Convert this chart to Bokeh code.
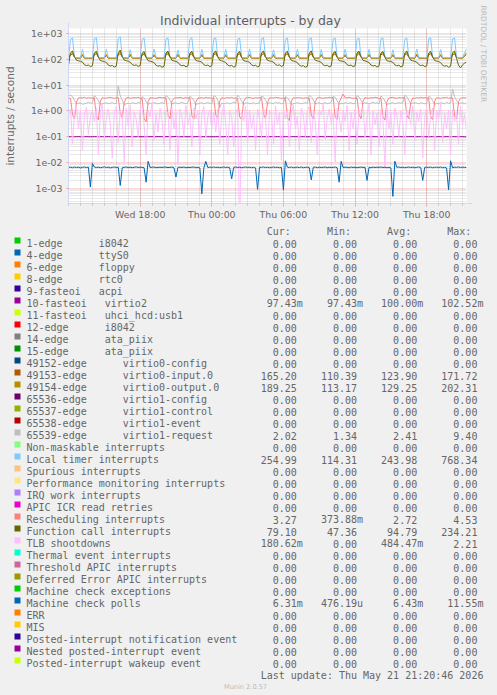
import re
from datetime import datetime, timedelta
import numpy as np
from bokeh.plotting import figure
from bokeh.models import Range1d, FixedTicker, Arrow, NormalHead, Title
from bokeh.core.properties import value
from bokeh.embed import file_html
from bokeh.resources import INLINE

# ---------------- data ----------------
TITLE = "Individual interrupts - by day"
Y_LABEL = "interrupts / second"
START = datetime(2026, 5, 20, 12, 0)
END = datetime(2026, 5, 21, 21, 20)
STEP_MINUTES = 10

X_TICK_LABELS = ["Wed 18:00", "Thu 00:00", "Thu 06:00", "Thu 12:00", "Thu 18:00"]
X_TICK_TIMES = [datetime(2026, 5, 20, 18), datetime(2026, 5, 21, 0), datetime(2026, 5, 21, 6),
                datetime(2026, 5, 21, 12), datetime(2026, 5, 21, 18)]
Y_TICKS = [1e-3, 1e-2, 1e-1, 1e0, 1e1, 1e2, 1e3]
Y_TICK_LABELS = ["1e-03", "1e-02", "1e-01", "1e+00", "1e+01", "1e+02", "1e+03"]
Y_MIN_EXP = -3.598
Y_MAX_EXP = 3.206

# 65539-edge virtio1-request
VIRTIO1_REQUEST = [
3.8,
4.2, 3.6, 2.6, 1.9, 2.0, 2.1, 1.8, 1.9, 2.0, 2.2, 2.0, 2.1,
3.9, 3.4, 2.5, 1.8, 1.9, 2.0, 2.1, 1.9, 2.0, 2.1, 1.9, 2.0,
9.4, 3.8, 2.7, 1.7, 1.9, 2.0, 1.9, 2.1, 2.0, 1.9, 2.2, 2.0,
3.6, 3.2, 2.4, 1.8, 2.0, 1.9, 2.1, 2.0, 1.9, 2.0, 2.1, 1.9,
4.0, 3.5, 2.6, 1.9, 2.0, 2.1, 1.9, 2.0, 2.2, 2.0, 1.9, 2.1,
3.7, 3.3, 2.5, 1.8, 1.9, 2.0, 2.1, 1.9, 2.0, 2.1, 2.0, 1.9,
3.9, 3.6, 2.6, 1.34, 2.0, 1.9, 2.0, 2.1, 1.9, 2.0, 2.2, 2.0,
4.1, 3.4, 2.4, 1.8, 2.0, 2.1, 1.9, 2.0, 2.1, 1.9, 2.0, 2.1,
3.8, 3.5, 2.6, 1.9, 2.1, 2.0, 1.9, 2.2, 2.0, 2.1, 1.9, 2.0,
3.6, 3.3, 2.5, 1.8, 1.9, 2.0, 2.1, 2.0, 1.9, 2.0, 2.1, 2.0,
4.0, 3.6, 2.7, 1.9, 2.0, 2.1, 1.9, 2.0, 2.1, 1.9, 2.0, 2.2,
3.7, 3.4, 2.5, 1.8, 2.0, 1.9, 2.1, 2.0, 2.0, 2.1, 1.9, 2.0,
3.9, 3.5, 2.6, 1.9, 2.1, 2.0, 1.9, 2.0, 2.2, 2.0, 2.1, 1.9,
3.8, 3.3, 2.4, 1.8, 1.9, 2.0, 2.1, 1.9, 2.0, 2.1, 2.0, 2.1,
4.1, 3.6, 2.6, 1.9, 2.0, 2.1, 2.0, 1.9, 2.1, 2.0, 1.9, 2.0,
3.7, 3.4, 2.5, 1.8, 2.0, 1.9, 2.1, 2.0, 1.9, 2.2, 2.0, 2.1,
7.2, 3.6, 2.6, 1.9, 2.0, 2.1, 1.9, 2.02,
]

# 10-fasteoi virtio2
VIRTIO2 = [
0.1,
0.1, 0.1005, 0.0995, 0.1, 0.101, 0.1, 0.0995, 0.1, 0.1005, 0.1, 0.099, 0.1,
0.1005, 0.1, 0.0995, 0.101, 0.1, 0.0995, 0.1, 0.1005, 0.1, 0.0995, 0.1, 0.101,
0.1, 0.0995, 0.1005, 0.1, 0.099, 0.1, 0.1005, 0.1, 0.0995, 0.1, 0.101, 0.1,
0.0995, 0.1, 0.1005, 0.1, 0.0995, 0.101, 0.1, 0.0995, 0.1005, 0.1, 0.1, 0.0995,
0.1, 0.1005, 0.1, 0.0995, 0.1, 0.1025, 0.1, 0.0995, 0.1, 0.1005, 0.1, 0.099,
0.1005, 0.1, 0.0995, 0.1, 0.101, 0.1, 0.0995, 0.1005, 0.1, 0.1, 0.0995, 0.1,
0.1, 0.0995, 0.1005, 0.1, 0.0995, 0.1, 0.101, 0.1, 0.0995, 0.1005, 0.1, 0.1,
0.0995, 0.1, 0.1, 0.1005, 0.1, 0.0995, 0.1, 0.101, 0.1, 0.0995, 0.1005, 0.1,
0.1, 0.1005, 0.0995, 0.1, 0.1, 0.101, 0.0995, 0.1, 0.1005, 0.1, 0.0995, 0.1,
0.1005, 0.1, 0.0995, 0.1, 0.101, 0.1, 0.1, 0.0995, 0.1, 0.1005, 0.1, 0.0995,
0.1, 0.0995, 0.1005, 0.1, 0.0995, 0.1, 0.101, 0.1, 0.0995, 0.1, 0.1005, 0.1,
0.0995, 0.1, 0.1, 0.1005, 0.0995, 0.1, 0.1, 0.101, 0.1, 0.0995, 0.1005, 0.1,
0.1, 0.1005, 0.0995, 0.1, 0.1, 0.101, 0.0995, 0.1, 0.1005, 0.1, 0.0995, 0.1,
0.1005, 0.1, 0.0995, 0.1, 0.1, 0.1005, 0.1, 0.0995, 0.1, 0.101, 0.1, 0.0995,
0.1, 0.0995, 0.1005, 0.1, 0.101, 0.1, 0.0995, 0.1, 0.1005, 0.1, 0.0995, 0.1,
0.0995, 0.1, 0.1005, 0.1, 0.0995, 0.101, 0.1, 0.1, 0.0995, 0.1005, 0.1, 0.1,
0.1, 0.1005, 0.0995, 0.1, 0.101, 0.1, 0.0995, 0.09743,
]

# 49153-edge virtio0-input.0
VIRTIO0_INPUT = [
114,
148, 166, 121, 114, 113, 112, 146, 113, 112, 111, 112, 113,
152, 168, 123, 113, 112, 113, 144, 112, 113, 112, 111, 112,
150, 171.7, 122, 114, 113, 112, 148, 113, 112, 112, 113, 112,
146, 164, 120, 113, 112, 113, 142, 112, 111, 112, 113, 112,
151, 167, 122, 114, 113, 112, 147, 113, 112, 113, 112, 111,
149, 165, 121, 113, 112, 113, 145, 112, 113, 112, 111, 112,
153, 168, 123, 114, 113, 112, 143, 113, 112, 112, 113, 112,
147, 166, 122, 113, 112, 113, 149, 112, 111, 112, 112, 113,
150, 169, 121, 114, 113, 112, 144, 113, 112, 113, 112, 112,
152, 165, 122, 113, 112, 113, 146, 112, 113, 112, 111, 112,
148, 167, 123, 114, 113, 112, 148, 113, 112, 112, 113, 112,
151, 166, 121, 113, 112, 113, 143, 112, 111, 112, 112, 113,
149, 168, 122, 114, 113, 112, 147, 113, 112, 113, 112, 112,
153, 165, 123, 113, 112, 113, 145, 112, 113, 112, 111, 112,
147, 167, 121, 114, 113, 112, 149, 113, 112, 112, 113, 112,
150, 169, 122, 113, 112, 113, 144, 112, 111, 112, 112, 113,
151, 166, 122, 114, 113, 112, 130, 165.2,
]

# 49154-edge virtio0-output.0
VIRTIO0_OUTPUT = [
115,
168, 192, 125, 115, 114, 113, 162, 114, 113, 112, 113, 114,
172, 195, 124, 114, 113, 114, 158, 113, 114, 113, 112, 113,
170, 202.3, 126, 115, 114, 113, 164, 114, 113, 113, 114, 113,
165, 188, 123, 114, 113, 114, 156, 113, 112, 113, 114, 113,
171, 194, 125, 115, 114, 113, 161, 114, 113, 114, 113, 112,
169, 190, 124, 114, 113, 114, 159, 113, 114, 113, 112, 113,
173, 196, 126, 115, 114, 113, 157, 114, 113, 113, 114, 113,
166, 191, 125, 114, 113, 114, 163, 113, 112, 113, 113, 114,
170, 197, 124, 115, 114, 113, 158, 114, 113, 114, 113, 113,
172, 189, 125, 114, 113, 114, 160, 113, 114, 113, 112, 113,
168, 193, 126, 115, 114, 113, 162, 114, 113, 113, 114, 113,
171, 192, 124, 114, 113, 114, 157, 113, 112, 113, 113, 114,
169, 195, 125, 115, 114, 113, 161, 114, 113, 114, 113, 113,
173, 190, 126, 114, 113, 114, 159, 113, 114, 113, 112, 113,
166, 194, 124, 115, 114, 113, 163, 114, 113, 113, 114, 113,
170, 197, 125, 114, 113, 114, 158, 113, 112, 113, 113, 114,
171, 193, 125, 115, 114, 113, 140, 189.25,
]

# Local timer interrupts
LOCAL_TIMER = [
118,
610, 690, 122, 118, 117, 119, 248, 121, 118, 116, 119, 120,
640, 700, 123, 119, 118, 117, 252, 120, 119, 117, 118, 121,
660, 768, 124, 118, 116, 118, 240, 119, 117, 118, 120, 119,
600, 680, 121, 117, 118, 119, 255, 122, 118, 117, 116, 120,
630, 690, 120, 118, 117, 118, 235, 120, 119, 118, 117, 119,
620, 700, 123, 119, 118, 116, 250, 121, 118, 119, 117, 118,
650, 690, 122, 118, 117, 118, 245, 119, 118, 116, 118, 120,
610, 680, 121, 117, 118, 119, 258, 120, 117, 118, 119, 118,
640, 700, 122, 119, 117, 118, 240, 121, 118, 117, 116, 119,
620, 690, 123, 118, 116, 118, 250, 120, 119, 118, 117, 118,
650, 700, 121, 117, 118, 119, 245, 119, 118, 117, 118, 120,
630, 690, 122, 118, 117, 118, 252, 121, 117, 118, 119, 118,
610, 680, 120, 119, 118, 117, 248, 120, 118, 116, 118, 119,
640, 700, 123, 118, 117, 118, 240, 119, 117, 118, 117, 120,
620, 690, 122, 117, 118, 119, 255, 121, 118, 117, 118, 119,
650, 700, 121, 118, 116, 118, 246, 120, 119, 118, 117, 118,
630, 690, 122, 118, 117, 119, 180, 255,
]

# Rescheduling interrupts
RESCHEDULING = [
3.2,
3.1, 0.75, 0.5, 2.2, 3.2, 3.3, 3.2, 3.4, 3.1, 3.3, 3.2, 3.2,
3.2, 0.6, 0.45, 2.4, 3.3, 3.1, 3.2, 3.3, 3.4, 3.2, 3.1, 3.3,
3.3, 0.8, 0.55, 2.1, 3.2, 3.4, 3.1, 3.2, 3.3, 3.2, 3.4, 3.1,
3.1, 0.5, 0.374, 2.3, 3.3, 3.2, 3.2, 3.1, 3.3, 3.4, 3.2, 3.3,
3.2, 0.7, 0.5, 2.5, 3.1, 3.3, 3.2, 3.4, 3.2, 3.1, 3.3, 3.2,
3.3, 0.65, 0.48, 2.2, 3.2, 3.2, 3.3, 3.1, 3.4, 3.2, 3.3, 3.1,
3.2, 0.7, 0.52, 2.4, 3.3, 3.1, 3.2, 3.3, 3.2, 3.4, 3.1, 3.2,
3.1, 0.6, 0.45, 2.3, 3.2, 3.4, 3.3, 3.2, 3.1, 3.3, 3.2, 3.3,
3.3, 0.75, 0.5, 2.1, 3.2, 3.3, 3.2, 3.4, 3.3, 3.2, 3.1, 3.2,
3.2, 0.55, 0.42, 2.4, 3.3, 3.2, 3.3, 3.3, 3.2, 3.1, 3.3, 3.2,
3.1, 0.7, 0.5, 2.3, 3.2, 3.4, 3.2, 3.1, 3.3, 3.2, 3.4, 3.3,
3.3, 0.6, 0.47, 2.2, 3.1, 4.53, 3.3, 3.2, 3.4, 3.2, 3.1, 3.2,
3.2, 0.72, 0.5, 2.4, 3.3, 3.2, 3.1, 3.3, 3.2, 3.4, 3.3, 3.1,
3.1, 0.58, 0.44, 2.3, 3.2, 3.3, 3.4, 3.2, 3.1, 3.3, 3.2, 3.3,
3.3, 0.68, 0.5, 2.1, 3.2, 3.1, 3.3, 3.2, 3.4, 3.2, 3.3, 3.2,
3.2, 0.6, 0.46, 2.4, 3.3, 3.2, 3.1, 3.3, 3.2, 3.4, 3.1, 3.3,
3.2, 0.65, 0.5, 2.3, 3.1, 3.3, 3.2, 3.27,
]

# Function call interrupts
FUNCTION_CALL = [
60,
182, 215, 128, 94, 89, 85, 80, 63, 58, 61, 53, 57,
178, 208, 124, 91, 87, 83, 77, 61, 56, 59, 51, 55,
185, 234, 130, 95, 90, 86, 79, 64, 59, 62, 54, 58,
176, 205, 122, 90, 86, 82, 76, 60, 55, 58, 50, 54,
181, 212, 127, 93, 88, 84, 78, 62, 57, 60, 52, 56,
179, 209, 125, 92, 87, 85, 79, 63, 58, 61, 53, 57,
184, 214, 129, 94, 89, 83, 77, 61, 56, 59, 51, 55,
177, 207, 123, 91, 86, 84, 78, 62, 57, 60, 52, 56,
183, 213, 128, 93, 88, 85, 80, 64, 59, 62, 54, 58,
180, 210, 126, 92, 87, 83, 76, 60, 55, 58, 50, 54,
182, 216, 127, 94, 89, 84, 78, 62, 57, 60, 52, 56,
178, 208, 124, 91, 87, 85, 79, 63, 58, 61, 53, 57,
185, 211, 128, 93, 88, 83, 77, 61, 56, 59, 51, 55,
176, 206, 123, 90, 86, 84, 78, 62, 57, 60, 52, 56,
181, 214, 127, 94, 89, 85, 80, 64, 58, 61, 53, 57,
179, 209, 125, 92, 87, 83, 76, 60, 55, 58, 50, 55,
184, 212, 110, 60, 47.4, 62, 72, 79.1,
]

# TLB shootdowns
TLB_SHOOTDOWNS = [
0.8,
1.2, 0.05, 0.9, 1.6, 0.2, 1.1, 0.03, 0.7, 1.4, 0.12, 0.6, 1.0,
0.4, 1.3, 0.02, 0.9, 1.8, 0.08, 0.5, 1.2, 0.3, 0.015, 0.8, 1.5,
0.06, 1.1, 0.7, 0.01, 1.3, 0.25, 1.7, 0.04, 0.9, 0.5, 0.1, 1.2,
1.5, 0.3, 0.02, 1.0, 0.6, 2.21, 0.07, 0.8, 0.15, 1.3, 0.4, 0.05,
1.1, 0.8, 0.03, 1.4, 0.2, 0.9, 0.008, 1.2, 0.6, 0.1, 1.6, 0.3,
0.7, 0.04, 1.3, 0.5, 1.0, 0.02, 0.8, 1.5, 0.09, 0.6, 1.1, 0.2,
0.9, 0.15, 1.2, 0.05, 0.7, 1.8, 0.3, 0.02, 1.0, 0.6, 0.04, 0.8,
1.3, 0.0, 0.9, 0.4, 1.5, 0.06, 1.1, 0.2, 0.7, 0.03, 1.2, 0.5,
0.1, 1.4, 0.6, 0.02, 1.0, 0.8, 0.05, 1.6, 0.3, 0.9, 0.012, 1.1,
0.5, 1.2, 0.04, 0.8, 1.7, 0.2, 0.6, 0.03, 1.3, 0.7, 0.1, 1.0,
1.5, 0.06, 0.9, 0.4, 0.02, 1.1, 0.7, 1.9, 0.08, 0.5, 1.2, 0.3,
0.8, 0.01, 1.3, 0.6, 0.15, 1.0, 0.4, 1.6, 0.03, 0.9, 0.2, 1.2,
0.05, 1.1, 0.7, 1.4, 0.09, 0.6, 1.8, 0.02, 1.0, 0.3, 0.8, 0.04,
1.2, 0.5, 0.006, 1.5, 0.2, 0.9, 0.05, 1.3, 0.7, 0.1, 1.0, 0.4,
0.02, 1.1, 0.8, 0.3, 1.6, 0.07, 0.9, 0.4, 1.2, 0.015, 0.6, 1.4,
0.1, 0.7, 1.3, 0.03, 1.0, 0.5, 1.9, 0.06, 0.8, 0.2, 1.1, 0.02,
1.2, 0.4, 0.9, 0.05, 1.5, 0.3, 0.7, 0.18,
]

# Machine check polls, in milli-interrupts per second
MACHINE_CHECK_POLLS_MILLI = [
6.4,
6.5, 6.2, 6.6, 6.3, 6.5, 6.1, 6.4, 6.6, 6.3, 6.5, 1.1, 9.1,
6.6, 6.3, 6.5, 6.2, 6.4, 6.7, 6.3, 6.5, 6.1, 6.4, 6.6, 6.3,
6.5, 1.27, 6.2, 6.4, 6.6, 6.3, 6.5, 6.2, 6.4, 6.7, 6.3, 6.5,
6.4, 6.2, 1.7, 11.0, 6.3, 6.5, 6.6, 6.2, 6.4, 6.5, 6.3, 6.6,
6.5, 6.3, 6.4, 6.6, 6.2, 2.7, 6.4, 6.5, 6.3, 6.6, 6.2, 6.4,
6.3, 6.5, 6.6, 6.2, 6.4, 6.1, 0.6, 6.0, 11.0, 6.3, 6.5, 6.4,
6.6, 6.3, 6.5, 6.2, 6.4, 6.6, 6.3, 6.5, 6.2, 2.3, 6.4, 6.6,
6.3, 6.5, 6.2, 6.4, 6.6, 6.3, 6.5, 6.2, 6.4, 6.1, 0.89, 6.5,
6.4, 6.6, 6.3, 6.5, 6.2, 6.4, 6.6, 6.3, 6.5, 6.2, 6.4, 0.86,
11.5, 6.5, 6.3, 6.6, 6.2, 6.4, 6.5, 6.3, 6.6, 6.2, 6.4, 6.5,
6.3, 2.1, 6.4, 6.6, 6.2, 6.5, 6.3, 6.4, 6.6, 6.2, 6.5, 6.3,
6.4, 6.6, 6.2, 1.7, 11.0, 6.3, 6.5, 6.4, 6.2, 6.6, 6.3, 6.5,
6.2, 6.4, 6.6, 6.3, 6.5, 2.0, 6.4, 6.2, 6.6, 6.3, 6.5, 6.4,
6.6, 6.3, 6.5, 6.2, 6.4, 6.1, 0.476, 11.2, 6.4, 6.6, 6.3, 6.5,
6.2, 6.4, 6.6, 6.3, 6.5, 6.2, 6.4, 6.6, 6.3, 2.0, 6.4, 6.5,
6.3, 6.6, 6.2, 6.4, 6.5, 6.3, 6.6, 6.2, 6.4, 6.1, 0.86, 11.55,
6.2, 6.5, 6.4, 6.6, 6.3, 6.5, 6.4, 6.31,
]

# legend table (label, colour, cur, min, avg, max)
LEGEND_LABELS = [
    "1-edge      i8042", "4-edge      ttyS0", "6-edge      floppy", "8-edge      rtc0",
    "9-fasteoi   acpi", "10-fasteoi   virtio2", "11-fasteoi   uhci_hcd:usb1", "12-edge      i8042",
    "14-edge      ata_piix", "15-edge      ata_piix", "49152-edge      virtio0-config",
    "49153-edge      virtio0-input.0", "49154-edge      virtio0-output.0",
    "65536-edge      virtio1-config", "65537-edge      virtio1-control",
    "65538-edge      virtio1-event", "65539-edge      virtio1-request",
    "Non-maskable interrupts", "Local timer interrupts", "Spurious interrupts",
    "Performance monitoring interrupts", "IRQ work interrupts", "APIC ICR read retries",
    "Rescheduling interrupts", "Function call interrupts", "TLB shootdowns",
    "Thermal event interrupts", "Threshold APIC interrupts", "Deferred Error APIC interrupts",
    "Machine check exceptions", "Machine check polls", "ERR", "MIS",
    "Posted-interrupt notification event", "Nested posted-interrupt event",
    "Posted-interrupt wakeup event",
]
LEGEND_COLORS = [
    "#00CC00", "#0066B3", "#FF8000", "#FFCC00", "#330099", "#990099", "#CCFF00", "#FF0000",
    "#808080", "#008F00", "#00487D", "#B35A00", "#B38F00", "#6B006B", "#8FB300", "#B30000",
    "#BEBEBE", "#80FF80", "#80C9FF", "#FFC080", "#FFE680", "#AA80FF", "#EE00CC", "#FF8080",
    "#666600", "#FFBFFF", "#00FFCC", "#CC6699", "#999900", "#00CC00", "#0066B3", "#FF8000",
    "#FFCC00", "#330099", "#990099", "#CCFF00",
]
Z = "0.00"
CUR = [Z, Z, Z, Z, Z, "97.43m", Z, Z, Z, Z, Z, "165.20", "189.25", Z, Z, Z, "2.02", Z, "254.99",
       Z, Z, Z, Z, "3.27", "79.10", "180.62m", Z, Z, Z, Z, "6.31m", Z, Z, Z, Z, Z]
MIN = [Z, Z, Z, Z, Z, "97.43m", Z, Z, Z, Z, Z, "110.39", "113.17", Z, Z, Z, "1.34", Z, "114.31",
       Z, Z, Z, Z, "373.88m", "47.36", "0.00", Z, Z, Z, Z, "476.19u", Z, Z, Z, Z, Z]
AVG = [Z, Z, Z, Z, Z, "100.00m", Z, Z, Z, Z, Z, "123.90", "129.25", Z, Z, Z, "2.41", Z, "243.98",
       Z, Z, Z, Z, "2.72", "94.79", "484.47m", Z, Z, Z, Z, "6.43m", Z, Z, Z, Z, Z]
MAX = [Z, Z, Z, Z, Z, "102.52m", Z, Z, Z, Z, Z, "171.72", "202.31", Z, Z, Z, "9.40", Z, "768.34",
       Z, Z, Z, Z, "4.53", "234.21", "2.21", Z, Z, Z, Z, "11.55m", Z, Z, Z, Z, Z]
COL_HEADERS = ["Cur:", "Min:", "Avg:", "Max:"]
LAST_UPDATE = "Last update: Thu May 21 21:20:46 2026"
FOOTER = "Munin 2.0.57"
VENDOR = "RRDTOOL / TOBI OETIKER"

# ---------------- styles / layout ----------------
BG = "#f0f0f0"
FONT_C = "#666666"
AXIS_C = "#cfd6f8"
W = 497
H_TOP = 222
H_BOT = 473
FRAME_L, FRAME_R, FRAME_T, FRAME_B = 67, 467, 28, 203
EPOCH = datetime(1970, 1, 1)


def ms(dt):
    return (dt - EPOCH).total_seconds() * 1000.0


n_samples = int((END - START).total_seconds() // (STEP_MINUTES * 60)) + 1
X = [ms(START + timedelta(minutes=STEP_MINUTES * i)) for i in range(n_samples)]
t0, t1 = ms(START), ms(END)
ylo, yhi = 10 ** Y_MIN_EXP, 10 ** Y_MAX_EXP

p = figure(width=W, height=H_TOP, x_axis_type="datetime", y_axis_type="log",
           x_range=Range1d(t0, t1), y_range=Range1d(ylo, yhi),
           output_backend="svg", toolbar_location=None,
           min_border_left=FRAME_L, min_border_right=W - FRAME_R,
           min_border_top=FRAME_T, min_border_bottom=H_TOP - FRAME_B)
p.background_fill_color = "#ffffff"
p.border_fill_color = BG
p.outline_line_color = None

# title above the frame
p.title.text = TITLE
p.title.align = "left"
p.title.offset = 91.5
p.title.standoff = 2
p.title.text_font = "DejaVu Sans"
p.title.text_font_size = "12.5px"
p.title.text_font_style = "normal"
p.title.text_color = "#5e5e5e"

# vendor stamp on the right edge
p.add_layout(Title(text=VENDOR, align="left", offset=-23, vertical_align="top", standoff=20,
                   text_font="DejaVu Sans", text_font_size="7.5px", text_font_style="normal",
                   text_color="#b8b8b8"), "right")

# y axis (log)
minor_y = [m * 10.0 ** d for d in range(-4, 4) for m in range(2, 10) if ylo <= m * 10.0 ** d <= yhi]
yt = FixedTicker(ticks=Y_TICKS, minor_ticks=minor_y)
p.yaxis.ticker = yt
p.ygrid.ticker = yt
p.yaxis.major_label_overrides = dict(zip(Y_TICKS, Y_TICK_LABELS))
p.yaxis.axis_label = Y_LABEL
p.yaxis.axis_label_text_font = "DejaVu Sans"
p.yaxis.axis_label_text_font_size = "10.5px"
p.yaxis.axis_label_text_font_style = "normal"
p.yaxis.axis_label_text_color = FONT_C
p.yaxis.axis_label_standoff = 12
p.yaxis.major_label_text_font = "DejaVu Sans"
p.yaxis.major_label_text_font_size = "9.4px"
p.yaxis.major_label_text_color = FONT_C
p.yaxis.major_label_standoff = 4
p.yaxis.axis_line_color = AXIS_C
p.yaxis.major_tick_in = 0
p.yaxis.major_tick_out = 2
p.yaxis.major_tick_line_color = "#f4a0a0"
p.yaxis.minor_tick_in = 0
p.yaxis.minor_tick_out = 0

# x axis (time)
hour_ticks = []
h = START
while h <= END:
    hour_ticks.append(ms(h))
    h += timedelta(hours=1)
x_tick_ms = [ms(d) for d in X_TICK_TIMES]
xt = FixedTicker(ticks=x_tick_ms, minor_ticks=hour_ticks)
p.xaxis.ticker = xt
p.xgrid.ticker = xt
p.xaxis.major_label_overrides = dict(zip(x_tick_ms, X_TICK_LABELS))
p.xaxis.major_label_text_font = "DejaVu Sans"
p.xaxis.major_label_text_font_size = "9.4px"
p.xaxis.major_label_text_color = FONT_C
p.xaxis.major_label_standoff = 2
p.xaxis.axis_line_color = "#d4ec80"
p.xaxis.major_tick_in = 0
p.xaxis.major_tick_out = 3
p.xaxis.major_tick_line_color = "#e0a0a0"
p.xaxis.minor_tick_in = 0
p.xaxis.minor_tick_out = 2
p.xaxis.minor_tick_line_color = "#c0c0c0"

for g in (p.xgrid, p.ygrid):
    g.grid_line_color = "#ff0000"
    g.grid_line_alpha = 0.3
    g.grid_line_dash = "1 1"
    g.minor_grid_line_color = "#808080"
    g.minor_grid_line_alpha = 0.35
    g.minor_grid_line_dash = "1 1"

# series (drawn in legend order)
series = [
    (VIRTIO2, 1.0, "#990099"),
    (VIRTIO0_INPUT, 1.0, "#B35A00"),
    (VIRTIO0_OUTPUT, 1.0, "#B38F00"),
    (VIRTIO1_REQUEST, 1.0, "#BEBEBE"),
    (LOCAL_TIMER, 1.0, "#80C9FF"),
    (RESCHEDULING, 1.0, "#FF8080"),
    (FUNCTION_CALL, 1.0, "#666600"),
    (TLB_SHOOTDOWNS, 1.0, "#FFBFFF"),
    (MACHINE_CHECK_POLLS_MILLI, 1e-3, "#0066B3"),
]
for vals, scale, col in series:
    v = np.asarray(vals, dtype=float) * scale
    v = np.maximum(v, ylo * 0.05)  # zero values fall to the bottom edge, as rrdtool does
    n = min(len(v), len(X))
    p.line(X[:n], v[:n], line_color=col, line_width=1)

# axis arrows
p.add_layout(Arrow(end=NormalHead(size=5, fill_color=AXIS_C, line_color=AXIS_C),
                   x_start=t0, y_start=yhi, x_end=t0, y_end=yhi * 10 ** (6 / 25.72),
                   line_color=AXIS_C, line_width=1))
p.add_layout(Arrow(end=NormalHead(size=5, fill_color=AXIS_C, line_color=AXIS_C),
                   x_start=t1, y_start=ylo, x_end=t1 + 6 * 5 * 60000, y_end=ylo,
                   line_color=AXIS_C, line_width=1))

# ---------------- legend panel (separate root, page coordinates) ----------------
q = figure(width=W, height=H_BOT, x_range=Range1d(0, W), y_range=Range1d(H_TOP + H_BOT, H_TOP),
           output_backend="svg", toolbar_location=None, min_border=0,
           x_axis_location=None, y_axis_location=None)
q.grid.visible = False
q.outline_line_color = None
q.background_fill_color = BG
q.border_fill_color = BG

CW = 6.02
ROW0 = 243.2
ROW_H = 12
TEXT_X = 26
COL_RIGHT = [296.3, 356.5, 416.7, 476.9]

lx, ly, lt = [], [], []
rx, ry, rt = [], [], []
sw_y = []
for i, lab in enumerate(LEGEND_LABELS):
    yb = ROW0 + ROW_H * i
    sw_y.append(yb - 3.3)
    m = re.match(r"^(.*?\S)(\s{2,})(\S.*)$", lab)
    if m:
        lx += [TEXT_X, TEXT_X + CW * (len(m.group(1)) + len(m.group(2)))]
        ly += [yb, yb]
        lt += [m.group(1), m.group(3)]
    else:
        lx.append(TEXT_X); ly.append(yb); lt.append(lab)
    for j, s in enumerate((CUR[i], MIN[i], AVG[i], MAX[i])):
        rx.append(COL_RIGHT[j] + (CW if s[-1].isalpha() else 0))
        ry.append(yb)
        rt.append(s)
for j, hd in enumerate(COL_HEADERS):
    rx.append(COL_RIGHT[j] - CW); ry.append(ROW0 - ROW_H); rt.append(hd)
rx.append(COL_RIGHT[3] + CW); ry.append(ROW0 + ROW_H * len(LEGEND_LABELS)); rt.append(LAST_UPDATE)

q.rect(x=[17] * len(sw_y), y=sw_y, width=6, height=6, fill_color=LEGEND_COLORS, line_color=None)
q.text(x=lx, y=ly, text=lt, text_font=value("DejaVu Sans Mono"), text_font_size="10px",
       text_color=FONT_C, text_align="left", text_baseline="alphabetic")
q.text(x=rx, y=ry, text=rt, text_font=value("DejaVu Sans Mono"), text_font_size="10px",
       text_color=FONT_C, text_align="right", text_baseline="alphabetic")
q.text(x=[245], y=[686.7], text=[FOOTER], text_font=value("DejaVu Sans"), text_font_size="6.6px",
       text_color="#bbbbbb", text_align="center", text_baseline="alphabetic")

html = file_html([p, q], INLINE)
html = html.replace("</head>", "<style>html,body{margin:0;padding:0;background:#f0f0f0;overflow:hidden;}</style></head>", 1)
open("out.html", "w").write(html)
